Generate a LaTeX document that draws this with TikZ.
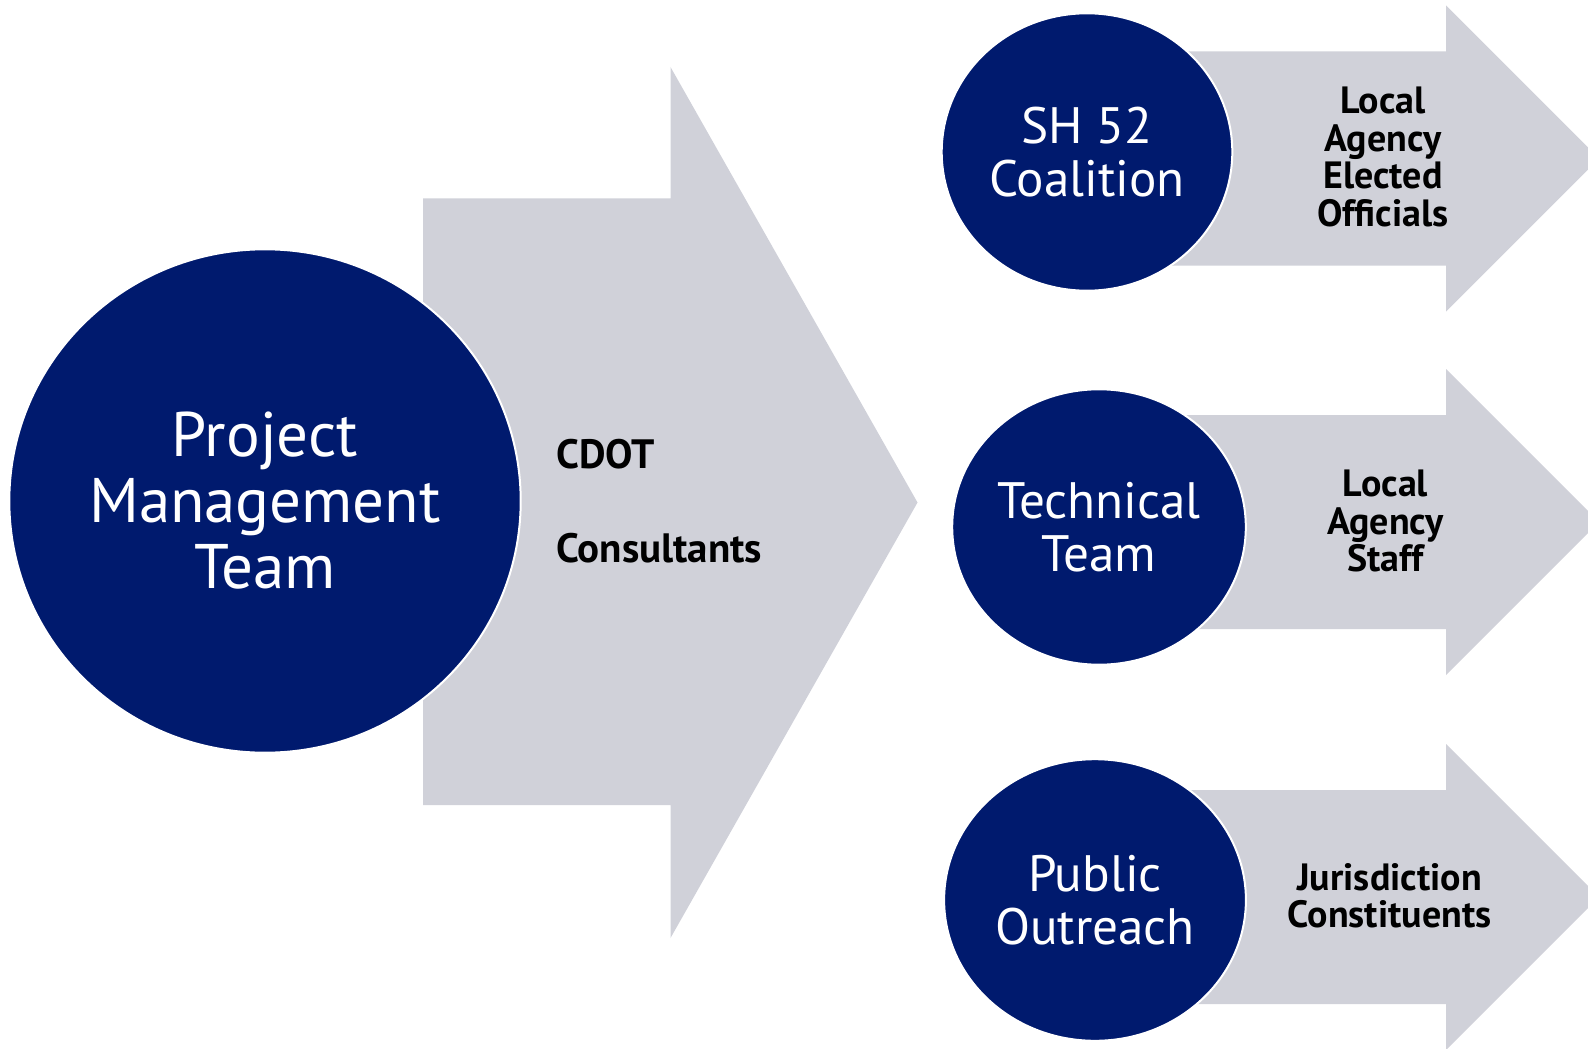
\documentclass[tikz,border=0pt]{standalone}
\usepackage{fontspec}
\setmainfont{PT Sans}
\usetikzlibrary{shapes.geometric}
\definecolor{navy}{RGB}{0,26,110}
\definecolor{bandgray}{RGB}{208,209,217}

\begin{document}
\begin{tikzpicture}[x=0.5pt,y=-0.5pt]
		\newcommand{\shaft}{107} % half height of the small shafts
		\newcommand{\head}{153} % half height of the small heads
		\newcommand{\headx}{1446}
		\newcommand{\shaftx}{1090}

		% set the styles of the circles and the labels
		\tikzset{
			team/.style={
				ellipse,
				fill=navy,
				draw=white,
				line width=1pt,
				inner sep=0pt,
				text=white,
				align=center
				},
			big/.style={font=\fontsize{31.5}{33}\selectfont},
			small/.style={font=\fontsize{25.6}{26.3}\selectfont},
			member/.style={
				align=center,
				inner sep=0pt,
				font=\bfseries\fontsize{19}{18.7}\selectfont
				}
		}

		\useasboundingbox (0,0) rectangle (1588,1048);

		% big arrow
		\fill[bandgray] (423,198.5) -- (670.5,198.5) -- (670.5,67) -- (917.5,502.5)
			-- (670.5,938) -- (670.5,805) -- (423,805) -- cycle;

		% small arrows
		\foreach \yc in {158.5,522,897}
			\fill[bandgray] (\shaftx,\yc-\shaft) -- (\headx,\yc-\shaft) -- (\headx,\yc-\head)
				-- (\headx+\head,\yc) -- (\headx,\yc+\head) -- (\headx,\yc+\shaft)
				-- (\shaftx,\yc+\shaft) -- cycle;

		% circles
		\node[team, big, minimum width=255.7pt, minimum height=251.7pt] (pmt) at (265,501) {Project\\Management\\Team};
		\node[team, small, minimum width=145.3pt, minimum height=138.7pt] (coalition) at (1087,152) {SH 52\\Coalition};
		\node[team, small, minimum width=146.8pt, minimum height=137.7pt] (technical) at (1099,527) {Technical\\Team};
		\node[team, small, minimum width=150.9pt, minimum height=140.8pt] (outreach) at (1095,900) {Public\\Outreach};

		% labels on the arrows
		\node[member, anchor=west, font=\bfseries\fontsize{20.5}{22}\selectfont] (cdot) at (556,454) {CDOT};
		\node[member, anchor=west, font=\bfseries\fontsize{20.5}{22}\selectfont] (consultants) at (556,548) {Consultants};
		\node[member] (officials) at (1383,157) {Local\\Agency\\Elected\\Officials};
		\node[member] (staff) at (1385.5,521) {Local\\Agency\\Staff};
		\node[member] (constituents) at (1389.5,896) {Jurisdiction\\Constituents};

\end{tikzpicture}
\end{document}
